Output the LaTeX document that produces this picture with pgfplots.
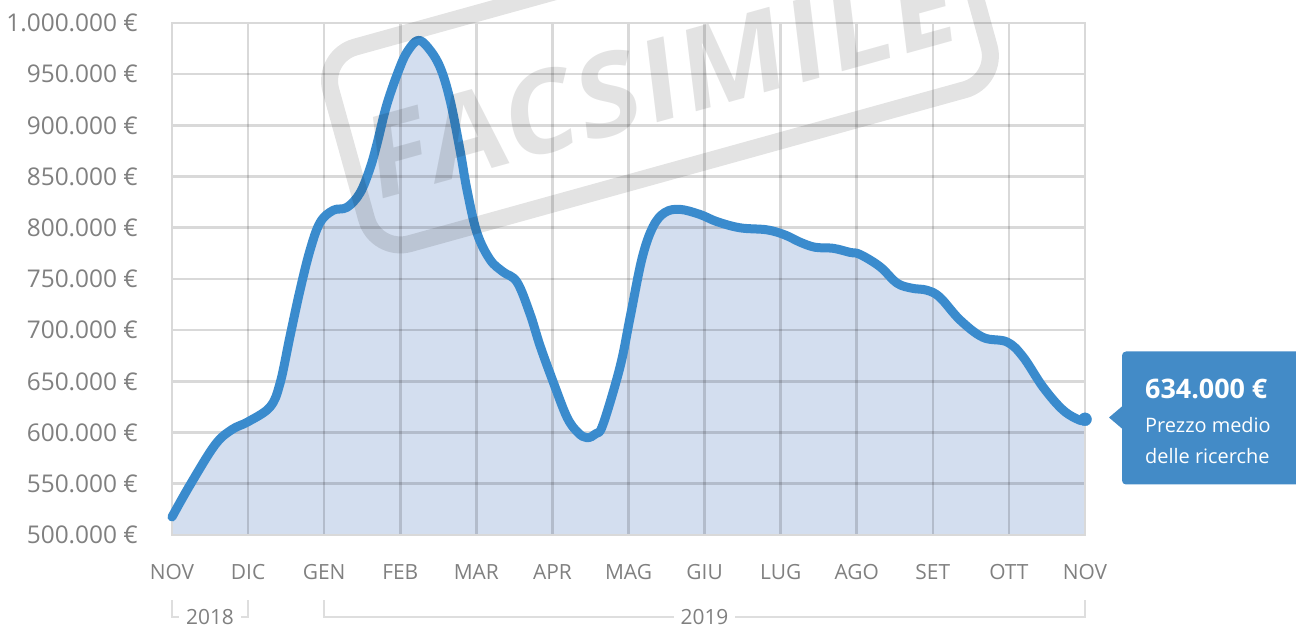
\documentclass[border=0pt]{standalone}
\usepackage{fontspec}
\setmainfont{Open Sans}
\newfontfamily\stampfont[FakeSlant=0.15,LetterSpace=3]{Open Sans}
\usepackage{pgfplots}
\pgfplotsset{compat=1.18}
\usepackage{pgfplotstable}

\definecolor{linec}{RGB}{58,139,205}
\definecolor{fillc}{RGB}{211,222,239}
\definecolor{boxc}{RGB}{67,139,199}
\definecolor{lbl}{RGB}{128,128,128}
\definecolor{brk}{RGB}{222,222,222}
\definecolor{bord}{RGB}{217,217,217}

\pgfplotstableread{
x y
0 517600
0.2366 548800
0.5652 588000
0.7886 603000
1.0 610600
1.2881 625000
1.4195 648000
1.5509 694000
1.6824 739000
1.8138 778000
1.9452 805000
2.1161 817000
2.3001 820000
2.4710 834000
2.6024 858000
2.6944 882000
2.8259 921000
2.9967 957000
3.1019 973000
3.2333 983000
3.3647 976000
3.5224 957000
3.6539 925000
3.7853 876000
3.8773 837000
4.0088 795000
4.1796 769000
4.3505 757000
4.5345 747000
4.7053 716000
4.8367 685000
5.0076 650000
5.1916 615000
5.3362 600000
5.4545 595000
5.5728 599000
5.6648 608000
5.8882 664000
6.0197 712000
6.1774 770000
6.3220 801000
6.4797 815000
6.6769 818000
6.9397 813000
7.1632 806000
7.4655 800000
7.8204 798000
8.0570 793000
8.2540 786000
8.4513 781000
8.6879 780000
8.9113 776000
9.0427 774000
9.3056 762000
9.5291 746000
9.7262 741000
9.9234 739000
10.0943 732000
10.3571 710000
10.6594 693000
10.9749 688500
11.1852 674000
11.4480 644500
11.7109 622000
11.9343 612000
12.0 613000
}\pricedata

\begin{document}
\begin{tikzpicture}
\begin{axis}[
  set layers,
  at={(0,0)}, anchor=south west,
  scale only axis, width=913bp, height=512bp,
  xmin=0, xmax=12, ymin=500000, ymax=1000000,
  clip=false,
  xtick={0,1,...,12},
  xticklabels={NOV,DIC,GEN,FEB,MAR,APR,MAG,GIU,LUG,AGO,SET,OTT,NOV},
  ytick={500000,550000,600000,650000,700000,750000,800000,850000,900000,950000,1000000},
  yticklabels={500.000 €,550.000 €,600.000 €,650.000 €,700.000 €,750.000 €,800.000 €,850.000 €,900.000 €,950.000 €,1.000.000 €},
  scaled y ticks=false,
  grid=major,
  grid style={black, opacity=0.15, line width=2.6bp},
  axis line style={draw=bord, line width=2.6bp},
  major tick length=0pt,
  tick style={draw=none},
  xticklabel style={font=\fontsize{21}{25}\selectfont, text=lbl, anchor=base, inner sep=0pt, yshift=-44bp},
  yticklabel style={font=\fontsize{24.5}{28}\selectfont, text=lbl, anchor=east, inner sep=0pt, xshift=-34bp},
]
\addplot[draw=none, fill=fillc, smooth, tension=0.6, on layer=axis background] table[x=x,y=y]{\pricedata} \closedcycle;
\addplot[linec, line width=9bp, smooth, tension=0.6, line cap=round, line join=round] table[x=x,y=y]{\pricedata};
\addplot[only marks, mark=*, mark size=6.5bp, color=linec] coordinates {(12,613000)};
\end{axis}
\pgfresetboundingbox
\useasboundingbox (-172bp,-91bp) rectangle (1124bp,535bp);
\begin{scope}[x=1bp,y=1bp]
% year brackets
\draw[brk, line width=2.5bp] (0,-65) -- (0,-82) -- (76,-82) -- (76,-65);
\draw[brk, line width=2.5bp] (152,-65) -- (152,-82) -- (913,-82) -- (913,-65);
\node[fill=white, inner xsep=7bp, inner ysep=2bp, anchor=base, text=lbl, font=\fontsize{21}{25}\selectfont] at (38,-89) {2018};
\node[fill=white, inner xsep=7bp, inner ysep=2bp, anchor=base, text=lbl, font=\fontsize{21}{25}\selectfont] at (532.5,-89) {2019};

% tooltip
\fill[boxc, rounded corners=4bp] (950,50.5) rectangle (1140,183.5);
\fill[boxc] (937,117.5) -- (950.5,129) -- (950.5,106) -- cycle;
\node[anchor=base west, inner sep=0pt, text=white, font=\bfseries\fontsize{27}{30}\selectfont] at (973,137) {634.000 €};
\node[anchor=base west, inner sep=0pt, text=white, font=\fontsize{20}{24}\selectfont] at (973,102.3) {Prezzo medio};
\node[anchor=base west, inner sep=0pt, text=white, font=\fontsize{20}{24}\selectfont] at (973,71.5) {delle ricerche};

% watermark
\begin{scope}[shift={(204,282)}, rotate=15.5, opacity=0.11]
  \draw[black, line width=17bp, rounded corners=35bp] (0,0) rectangle (646,204);
  \node[anchor=base, transform shape, inner sep=0pt, text=black, font=\stampfont\bfseries\fontsize{114}{114}\selectfont] at (315,50) {FACSIMILE};
\end{scope}
\end{scope}
\end{tikzpicture}
\end{document}
